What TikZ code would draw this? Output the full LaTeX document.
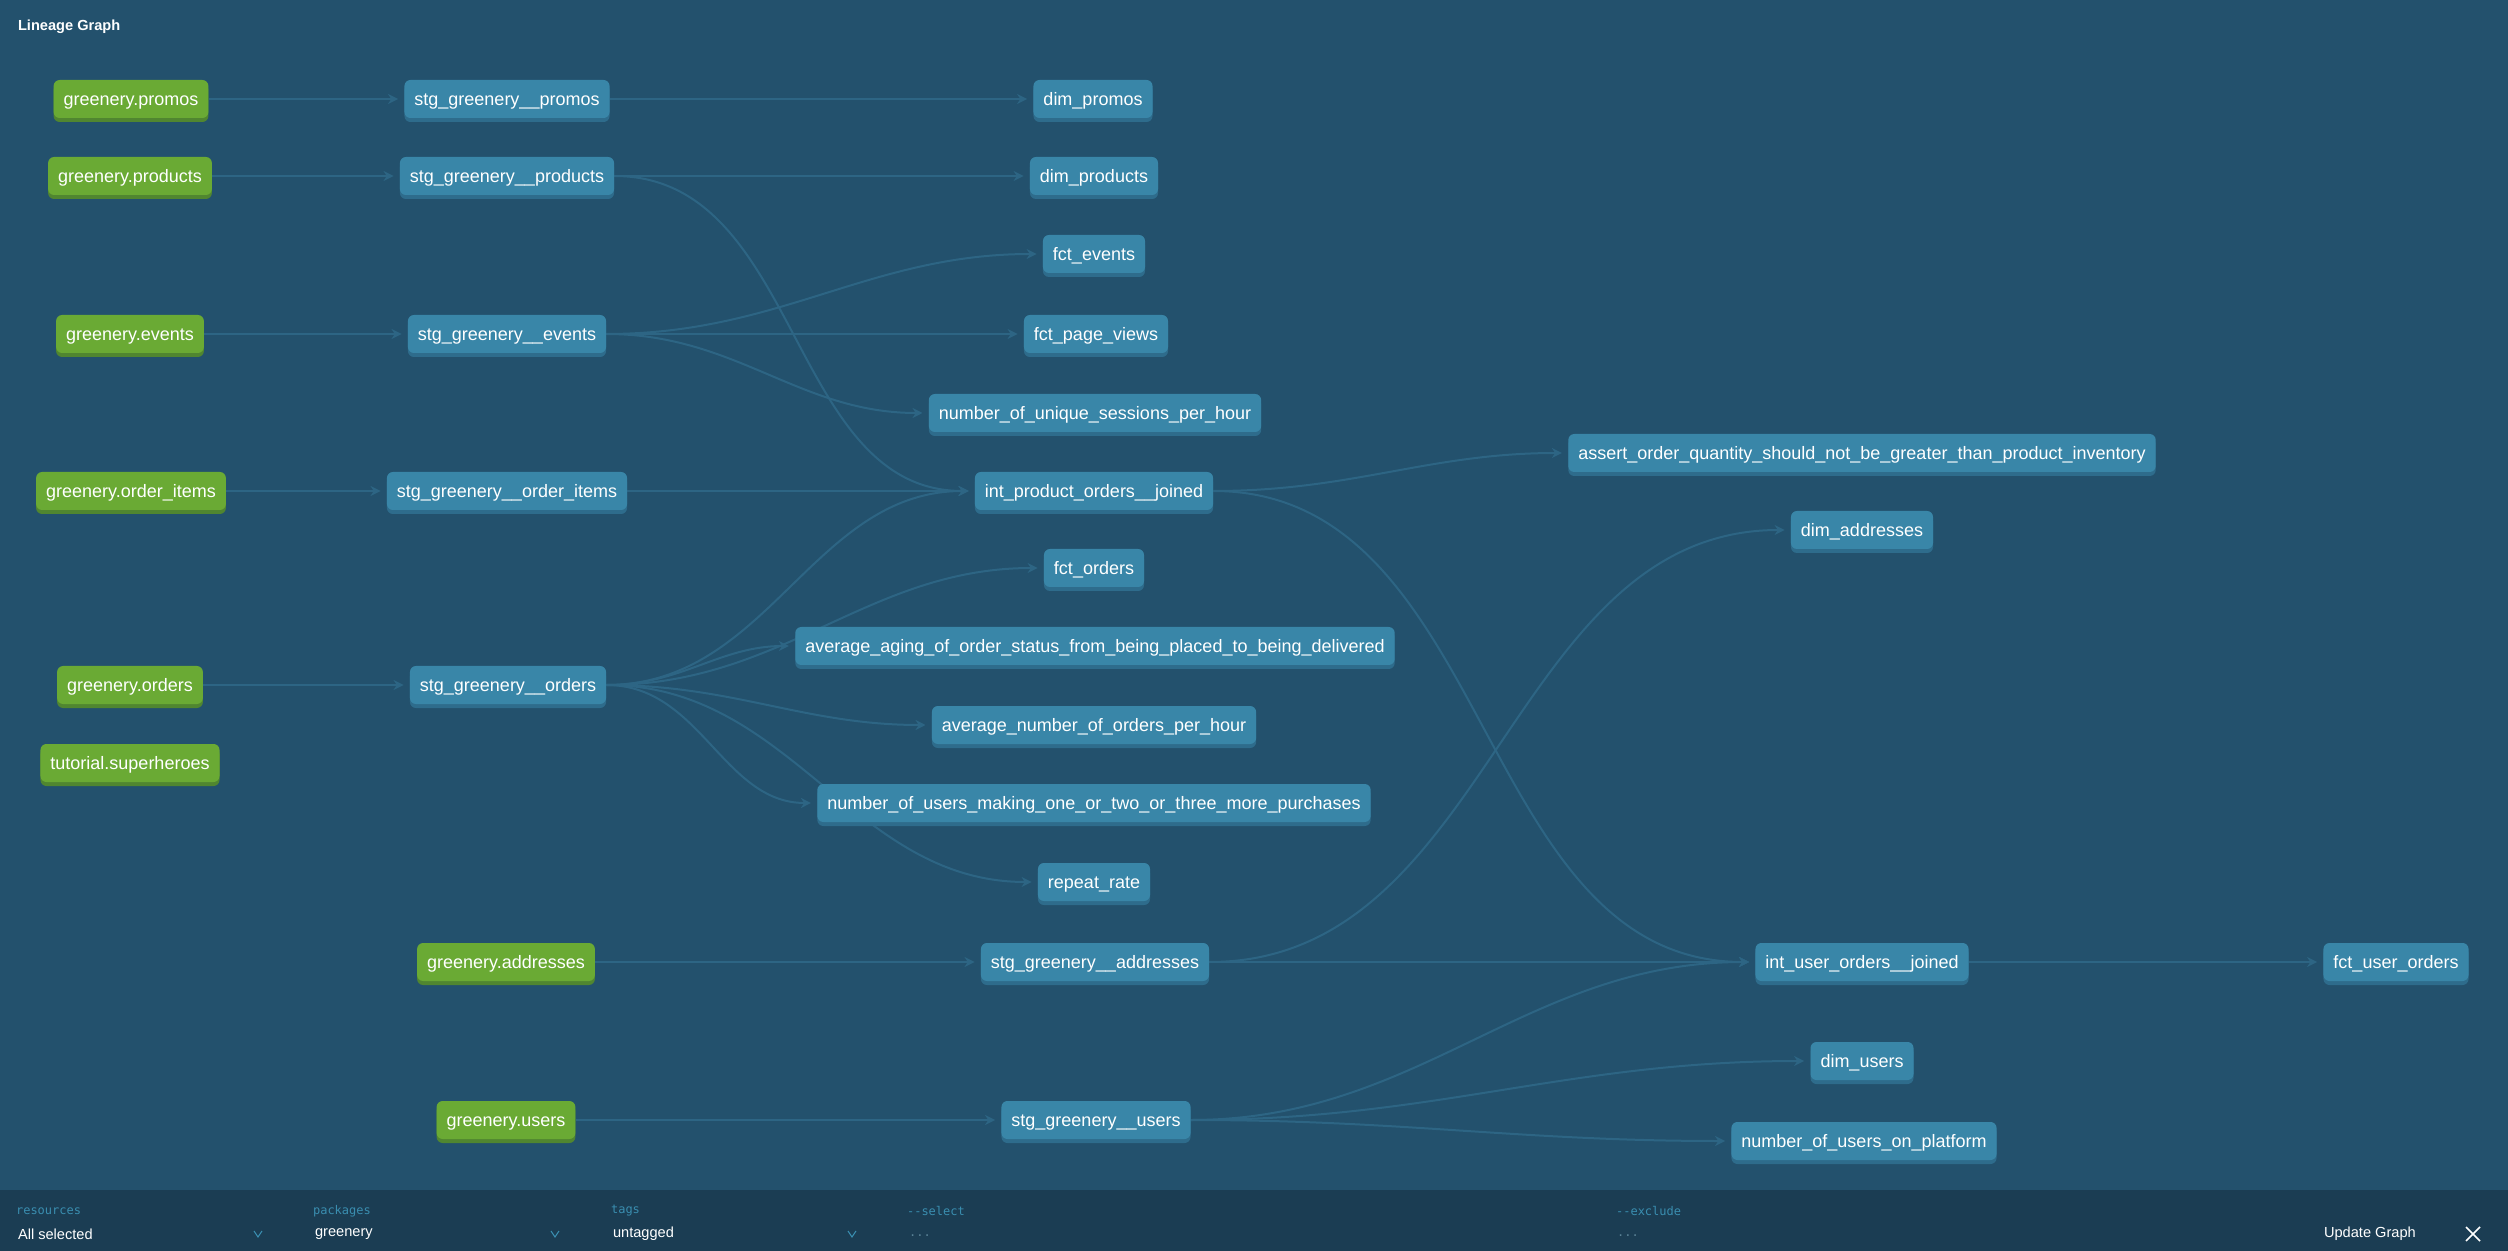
\documentclass[tikz,border=0pt]{standalone}
\usepackage{fontspec}
\setmainfont{Liberation Sans}
\setmonofont{DejaVu Sans Mono}
\usetikzlibrary{arrows.meta,shadows}
\pgfdeclarelayer{canvas}
\pgfdeclarelayer{links}
\pgfsetlayers{canvas,links,main}
\definecolor{canvasbg}{RGB}{35,81,109}
\definecolor{panelbg}{RGB}{27,61,83}
\definecolor{srcgreen}{RGB}{106,170,52}
\definecolor{srcshade}{RGB}{80,134,48}
\definecolor{modelblue}{RGB}{57,134,168}
\definecolor{modelshade}{RGB}{46,108,140}
\definecolor{linkcol}{RGB}{45,101,132}
\definecolor{labelteal}{RGB}{58,142,176}
\definecolor{dotgrey}{RGB}{90,130,150}
\begin{document}
\begin{tikzpicture}[x=0.5pt, y=-0.5pt, font=\fontsize{9}{11}\selectfont, >={Stealth[length=5pt,width=5pt]},
      basenode/.style={rounded corners=3pt, text=white, inner xsep=5pt, inner ysep=0pt,
        minimum height=19pt, text height=7.6pt, text depth=1pt},
      srcnode/.style={basenode, fill=srcgreen,
        copy shadow={shadow xshift=0pt, shadow yshift=-2pt, fill=srcshade, draw=none}},
      modelnode/.style={basenode, fill=modelblue,
        copy shadow={shadow xshift=0pt, shadow yshift=-2pt, fill=modelshade, draw=none}},
      linkarr/.style={->, draw=linkcol, line width=1pt, shorten >=3pt},
      barlabel/.style={anchor=west, text=labelteal, font=\ttfamily\fontsize{6}{7}\selectfont},
      barvalue/.style={anchor=west, text=white, font=\fontsize{7.3}{9}\selectfont}]
    \begin{pgfonlayer}{canvas}
      \fill[canvasbg] (0,0) rectangle (2508,1251);
    \end{pgfonlayer}
    \useasboundingbox (0,0) rectangle (2508,1251);
    \node[anchor=west, text=white, font=\bfseries\fontsize{7.3}{9}\selectfont] (title) at (11,27) {Lineage Graph};
    % sources
    \node[srcnode] (promos)      at (131,99)  {greenery.promos};
    \node[srcnode] (products)    at (130,176) {greenery.products};
    \node[srcnode] (events)      at (130,334) {greenery.events};
    \node[srcnode] (orderitems)  at (131,491) {greenery.order\_items};
    \node[srcnode] (orders)      at (130,685) {greenery.orders};
    \node[srcnode] (superheroes) at (130,763) {tutorial.superheroes};
    \node[srcnode] (addresses)   at (506,962) {greenery.addresses};
    \node[srcnode] (users)       at (506,1120) {greenery.users};
    % staging
    \node[modelnode] (stgpromos)     at (507,99)   {stg\_greenery\_\_promos};
    \node[modelnode] (stgproducts)   at (507,176)  {stg\_greenery\_\_products};
    \node[modelnode] (stgevents)     at (507,334)  {stg\_greenery\_\_events};
    \node[modelnode] (stgorderitems) at (507,491)  {stg\_greenery\_\_order\_items};
    \node[modelnode] (stgorders)     at (508,685)  {stg\_greenery\_\_orders};
    \node[modelnode] (stgaddresses)  at (1095,962) {stg\_greenery\_\_addresses};
    \node[modelnode] (stgusers)      at (1096,1120) {stg\_greenery\_\_users};
    % marts
    \node[modelnode] (dimpromos)      at (1093,99)  {dim\_promos};
    \node[modelnode] (dimproducts)    at (1094,176) {dim\_products};
    \node[modelnode] (fctevents)      at (1094,254) {fct\_events};
    \node[modelnode] (fctpageviews)   at (1096,334) {fct\_page\_views};
    \node[modelnode] (uniquesessions) at (1095,413) {number\_of\_unique\_sessions\_per\_hour};
    \node[modelnode] (intprodorders)  at (1094,491) {int\_product\_orders\_\_joined};
    \node[modelnode] (fctorders)      at (1094,568) {fct\_orders};
    \node[modelnode] (avgaging)       at (1095,646) {average\_aging\_of\_order\_status\_from\_being\_placed\_to\_being\_delivered};
    \node[modelnode] (avgorders)      at (1094,725) {average\_number\_of\_orders\_per\_hour};
    \node[modelnode] (usersmaking)    at (1094,803) {number\_of\_users\_making\_one\_or\_two\_or\_three\_more\_purchases};
    \node[modelnode] (repeatrate)     at (1094,882) {repeat\_rate};
    \node[modelnode] (assertqty)      at (1862,453) {assert\_order\_quantity\_should\_not\_be\_greater\_than\_product\_inventory};
    \node[modelnode] (dimaddresses)   at (1862,530) {dim\_addresses};
    \node[modelnode] (intuserorders)  at (1862,962) {int\_user\_orders\_\_joined};
    \node[modelnode] (dimusers)       at (1862,1061) {dim\_users};
    \node[modelnode] (usersplatform)  at (1864,1141) {number\_of\_users\_on\_platform};
    \node[modelnode] (fctuserorders)  at (2396,962) {fct\_user\_orders};
    % links, behind the nodes
    \begin{pgfonlayer}{links}
      \draw[linkarr] (promos) -- (stgpromos);
      \draw[linkarr] (stgpromos) -- (dimpromos);
      \draw[linkarr] (products) -- (stgproducts);
      \draw[linkarr] (stgproducts) -- (dimproducts);
      \draw[linkarr] (stgproducts.east) to[out=0, in=180] (intprodorders.west);
      \draw[linkarr] (events) -- (stgevents);
      \draw[linkarr] (stgevents.east) to[out=0, in=180] (fctevents.west);
      \draw[linkarr] (stgevents) -- (fctpageviews);
      \draw[linkarr] (stgevents.east) to[out=0, in=180] (uniquesessions.west);
      \draw[linkarr] (orderitems) -- (stgorderitems);
      \draw[linkarr] (stgorderitems) -- (intprodorders);
      \draw[linkarr] (intprodorders.east) to[out=0, in=180] (assertqty.west);
      \draw[linkarr] (intprodorders.east) to[out=0, in=180] (intuserorders.west);
      \draw[linkarr] (orders) -- (stgorders);
      \draw[linkarr] (stgorders.east) to[out=0, in=180] (intprodorders.west);
      \draw[linkarr] (stgorders.east) to[out=0, in=180] (fctorders.west);
      \draw[linkarr] (stgorders.east) to[out=0, in=180] (avgaging.west);
      \draw[linkarr] (stgorders.east) to[out=0, in=180] (avgorders.west);
      \draw[linkarr] (stgorders.east) to[out=0, in=180] (usersmaking.west);
      \draw[linkarr] (stgorders.east) to[out=0, in=180] (repeatrate.west);
      \draw[linkarr] (addresses) -- (stgaddresses);
      \draw[linkarr] (stgaddresses.east) to[out=0, in=180] (dimaddresses.west);
      \draw[linkarr] (stgaddresses) -- (intuserorders);
      \draw[linkarr] (users) -- (stgusers);
      \draw[linkarr] (stgusers.east) to[out=0, in=180] (intuserorders.west);
      \draw[linkarr] (stgusers.east) to[out=0, in=180] (dimusers.west);
      \draw[linkarr] (stgusers.east) to[out=0, in=180] (usersplatform.west);
      \draw[linkarr] (intuserorders) -- (fctuserorders);
    \end{pgfonlayer}
    % selector bar
    \fill[panelbg] (0,1190) rectangle (2508,1251);
    \node[barlabel] (reslabel) at (9,1211)    {resources};
    \node[barvalue] (resvalue) at (11,1234)   {All selected};
    \node[barlabel] (pkglabel) at (306,1211)  {packages};
    \node[barvalue] (pkgvalue) at (308,1234)  {greenery};
    \node[barlabel] (taglabel) at (604,1211)  {tags};
    \node[barvalue] (tagvalue) at (606,1234)  {untagged};
    \node[barlabel] (sellabel) at (900,1211)  {--select};
    \node[barlabel, text=dotgrey] (selvalue) at (902,1236) {...};
    \node[barlabel] (exclabel) at (1609,1211) {--exclude};
    \node[barlabel, text=dotgrey] (excvalue) at (1610,1236) {...};
    \node[barvalue] (update)   at (2317,1234) {Update Graph};
    \draw[labelteal, line width=0.5pt] (254,1231) -- (258,1237) -- (262,1231);
    \draw[labelteal, line width=0.5pt] (551,1231) -- (555,1237) -- (559,1231);
    \draw[labelteal, line width=0.5pt] (848,1231) -- (852,1237) -- (856,1231);
    \draw[white, line width=0.8pt] (2466,1227) -- (2480,1241) (2466,1241) -- (2480,1227);
  \end{tikzpicture}
\end{document}
